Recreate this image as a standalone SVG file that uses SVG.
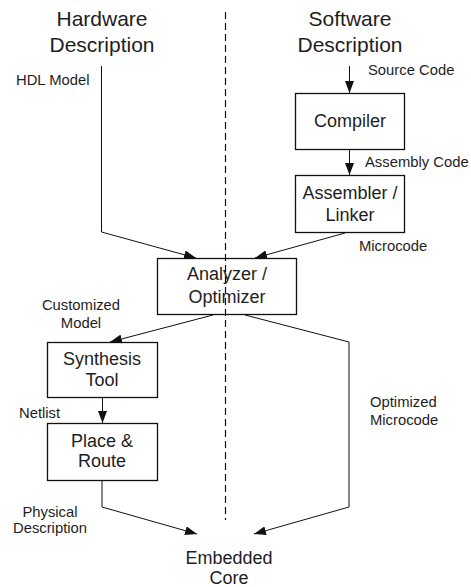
<svg xmlns="http://www.w3.org/2000/svg" width="471" height="587" viewBox="0 0 471 587">
  <style>
    text { font-family: "Liberation Sans", Arial, sans-serif; fill: #1e1e1e; }
    .head { font-size: 21px; text-anchor: middle; }
    .box-label { font-size: 18px; text-anchor: middle; }
    .label { font-size: 14.8px; }
    .mid { text-anchor: middle; }
    .box { fill: none; stroke: #111; stroke-width: 1.3; }
    .edge { fill: none; stroke: #111; stroke-width: 1; }
    .divider { fill: none; stroke: #111; stroke-width: 1.2; stroke-dasharray: 7 4; }
  </style>
  <defs>
    <marker id="arrow" viewBox="0 0 12 9" refX="12" refY="4.5" markerWidth="12" markerHeight="9" markerUnits="userSpaceOnUse" orient="auto">
      <path d="M0,0 L12,4.5 L0,9 Z" fill="#111"/>
    </marker>
  </defs>

  <rect width="471" height="587" fill="#fff"/>

  <!-- column headings -->
  <g id="hardware-heading">
    <text class="head" x="102" y="26">Hardware</text>
    <text class="head" x="102" y="52">Description</text>
  </g>
  <g id="software-heading">
    <text class="head" x="350" y="26">Software</text>
    <text class="head" x="350" y="52">Description</text>
  </g>

  <!-- boxes -->
  <g id="compiler">
    <rect class="box" x="295.5" y="93.5" width="109" height="56"/>
    <text class="box-label" x="350" y="127">Compiler</text>
  </g>
  <g id="assembler">
    <rect class="box" x="295.5" y="175.5" width="109" height="57"/>
    <text class="box-label" x="350" y="199">Assembler /</text>
    <text class="box-label" x="350" y="221">Linker</text>
  </g>
  <g id="analyzer">
    <rect class="box" x="157.5" y="258.5" width="139" height="56"/>
    <text class="box-label" x="227" y="280">Analyzer /</text>
    <text class="box-label" x="227" y="303">Optimizer</text>
  </g>
  <g id="synthesis">
    <rect class="box" x="47.5" y="342.5" width="110" height="55"/>
    <text class="box-label" x="102" y="365">Synthesis</text>
    <text class="box-label" x="102" y="386">Tool</text>
  </g>
  <g id="place-route">
    <rect class="box" x="47.5" y="423.5" width="110" height="57"/>
    <text class="box-label" x="102" y="447">Place &amp;</text>
    <text class="box-label" x="102" y="467">Route</text>
  </g>
  <g id="embedded-core">
    <text class="box-label" x="229" y="564">Embedded</text>
    <text class="box-label" x="229" y="584">Core</text>
  </g>

  <!-- hardware / software divider -->
  <line class="divider" x1="225.5" y1="12" x2="225.5" y2="520"/>

  <!-- connectors -->
  <g id="connectors">
    <polyline class="edge" points="101.5,66 101.5,232 196,258" marker-end="url(#arrow)"/>
    <line class="edge" x1="349.5" y1="66" x2="349.5" y2="93" marker-end="url(#arrow)"/>
    <line class="edge" x1="349.5" y1="150" x2="349.5" y2="175" marker-end="url(#arrow)"/>
    <line class="edge" x1="345" y1="233" x2="255" y2="258" marker-end="url(#arrow)"/>
    <line class="edge" x1="213" y1="315" x2="110" y2="342" marker-end="url(#arrow)"/>
    <line class="edge" x1="102.5" y1="398" x2="102.5" y2="423" marker-end="url(#arrow)"/>
    <polyline class="edge" points="102,481 102,507 197,534" marker-end="url(#arrow)"/>
    <polyline class="edge" points="245,315 349,342 349,507 254,534" marker-end="url(#arrow)"/>
  </g>

  <!-- connector labels -->
  <g id="connector-labels">
    <text class="label" x="16" y="85">HDL Model</text>
    <text class="label" x="368" y="75">Source Code</text>
    <text class="label" x="365" y="167">Assembly Code</text>
    <text class="label" x="359" y="251">Microcode</text>
    <text class="label mid" x="81" y="310">Customized</text>
    <text class="label mid" x="81" y="328">Model</text>
    <text class="label" x="19" y="418">Netlist</text>
    <text class="label mid" x="50" y="517">Physical</text>
    <text class="label mid" x="50" y="533">Description</text>
    <text class="label" x="370" y="407">Optimized</text>
    <text class="label" x="370" y="425">Microcode</text>
  </g>
</svg>
